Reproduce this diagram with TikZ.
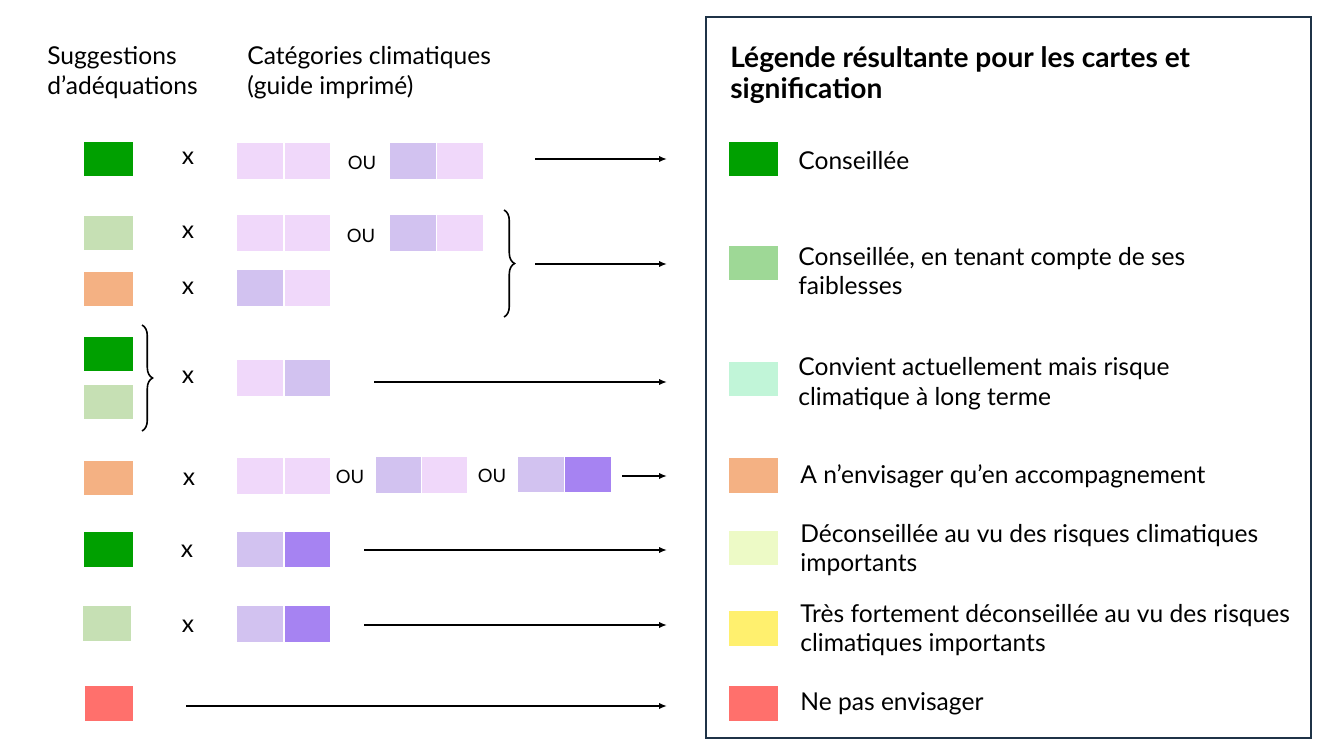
\documentclass[tikz,border=0pt]{standalone}
\usepackage{fontspec}
\setmainfont{Lato}
\usetikzlibrary{arrows.meta,decorations.pathreplacing}
\definecolor{vert}{RGB}{0,160,0}
\definecolor{vertpale}{RGB}{198,224,180}
\definecolor{vertleg}{RGB}{158,216,150}
\definecolor{menthe}{RGB}{193,245,216}
\definecolor{orange}{RGB}{244,177,131}
\definecolor{jaunepale}{RGB}{237,250,198}
\definecolor{jaune}{RGB}{255,240,110}
\definecolor{rouge}{RGB}{255,112,108}
\definecolor{rose}{RGB}{240,216,250}
\definecolor{mauve}{RGB}{210,194,240}
\definecolor{violet}{RGB}{166,131,242}
\definecolor{cadre}{RGB}{31,51,71}
\tikzset{
  sq/.style   = {minimum width=0.98cm, minimum height=0.7cm, inner sep=0pt},
  cell/.style = {minimum width=0.91cm, minimum height=0.72cm, inner sep=0pt},
  txt/.style  = {anchor=west, align=left, inner sep=0pt, font=\fontsize{14}{17}\selectfont},
  small/.style = {inner sep=0pt, font=\fontsize{10.5}{12}\selectfont},
  times/.style = {inner sep=0pt, font=\fontsize{14}{14}\selectfont},
  arr/.style  = {-{Latex[length=4.5pt,width=3.6pt]}, line width=1pt},
  brc/.style  = {decorate, decoration={brace,amplitude=6pt}, line width=0.9pt}
}

\begin{document}
\begin{tikzpicture}[x=0.02cm,y=-0.02cm]
  \useasboundingbox (0,0) rectangle (1333,750);
  % headers
  \node[txt] (hsug) at (47,73) {Suggestions\\d’adéquations};
  \node[txt] (hcat) at (247,73) {Catégories climatiques\\(guide imprimé)};
  % row 1
  \node[sq,fill=vert] (s1) at (108.5,159) {};
  \node[times] (x1) at (188,158) {x};
  \node[cell,fill=rose] (c1a) at (260,161) {};
  \node[cell,fill=rose] (c1b) at (307.5,161) {};
  \node[small] (ou1) at (362,163) {OU};
  \node[cell,fill=mauve] (c1c) at (413,161) {};
  \node[cell,fill=rose] (c1d) at (460,161) {};
  \coordinate (a1) at (535,159);
  \coordinate (b1) at (667,159);
  \draw[arr] (a1) -- (b1);
  % rows 2 and 3
  \node[sq,fill=vertpale] (s2) at (108.5,233) {};
  \node[times] (x2) at (188,232) {x};
  \node[cell,fill=rose] (c2a) at (260,233) {};
  \node[cell,fill=rose] (c2b) at (307.5,233) {};
  \node[small] (ou2) at (361,236) {OU};
  \node[cell,fill=mauve] (c2c) at (413,233) {};
  \node[cell,fill=rose] (c2d) at (460,233) {};
  \node[sq,fill=orange] (s3) at (108.5,289) {};
  \node[times] (x3) at (188,288) {x};
  \node[cell,fill=mauve] (c3a) at (260,288) {};
  \node[cell,fill=rose] (c3b) at (307.5,288) {};
  \coordinate (k2t) at (504,210);
  \coordinate (k2b) at (504,317);
  \draw[brc] (k2t) -- (k2b);
  \coordinate (a2) at (535,264);
  \coordinate (b2) at (667,264);
  \draw[arr] (a2) -- (b2);
  % row 4
  \node[sq,fill=vert] (s4a) at (108.5,354) {};
  \node[sq,fill=vertpale] (s4b) at (108.5,402) {};
  \coordinate (k4t) at (142,325);
  \coordinate (k4b) at (142,431);
  \draw[brc] (k4t) -- (k4b);
  \node[times] (x4) at (188,377) {x};
  \node[cell,fill=rose] (c4a) at (260,378) {};
  \node[cell,fill=mauve] (c4b) at (307.5,378) {};
  \coordinate (a4) at (374,382);
  \coordinate (b4) at (667,382);
  \draw[arr] (a4) -- (b4);
  % row 5
  \node[sq,fill=orange] (s5) at (108.5,478) {};
  \node[times] (x5) at (189,479) {x};
  \node[cell,fill=rose] (c5a) at (260,476) {};
  \node[cell,fill=rose] (c5b) at (307.5,476) {};
  \node[small] (ou5a) at (350,477) {OU};
  \node[cell,fill=mauve] (c5c) at (398.5,475) {};
  \node[cell,fill=rose] (c5d) at (444.5,475) {};
  \node[small] (ou5b) at (492,476) {OU};
  \node[cell,fill=mauve] (c5e) at (541,474.5) {};
  \node[cell,fill=violet] (c5f) at (588,474.5) {};
  \coordinate (a5) at (622,476);
  \coordinate (b5) at (667,476);
  \draw[arr] (a5) -- (b5);
  % row 6
  \node[sq,fill=vert] (s6) at (108.5,549.5) {};
  \node[times] (x6) at (187,551) {x};
  \node[cell,fill=mauve] (c6a) at (260,549.5) {};
  \node[cell,fill=violet] (c6b) at (307.5,549.5) {};
  \coordinate (a6) at (364,550);
  \coordinate (b6) at (667,550);
  \draw[arr] (a6) -- (b6);
  % row 7
  \node[sq,fill=vertpale] (s7) at (107,623) {};
  \node[times] (x7) at (188,626) {x};
  \node[cell,fill=mauve] (c7a) at (260,624) {};
  \node[cell,fill=violet] (c7b) at (307.5,624) {};
  \coordinate (a7) at (364,625);
  \coordinate (b7) at (667,625);
  \draw[arr] (a7) -- (b7);
  % row 8
  \node[sq,fill=rouge] (s8) at (109,703) {};
  \coordinate (a8) at (186,706);
  \coordinate (b8) at (667,706);
  \draw[arr] (a8) -- (b8);
  % legend
  \draw[cadre,line width=1.1pt] (706,17) rectangle (1311,738);
  \node[txt,font=\fontsize{16}{18}\selectfont\bfseries] (titre) at (730,75)
    {Légende résultante pour les cartes et\\signification};
  \foreach \y/\ty/\c/\tx/\t [count=\i] in {
      159/161/vert/798/{Conseillée},
      263/271/vertleg/798/{Conseillée, en tenant compte de ses\\faiblesses},
      379/384/menthe/798/{Convient actuellement mais risque\\climatique à long terme},
      475.5/476/orange/800/{A n’envisager qu’en accompagnement},
      548/550/jaunepale/800/{Déconseillée au vu des risques climatiques\\importants},
      628/630/jaune/800/{Très fortement déconseillée au vu des risques\\climatiques importants},
      703.5/704/rouge/800/{Ne pas envisager}} {
    \node[sq,fill=\c] (l\i) at (753,\y) {};
    \node[txt] (t\i) at (\tx,\ty) {\t};
  }
\end{tikzpicture}
\end{document}
